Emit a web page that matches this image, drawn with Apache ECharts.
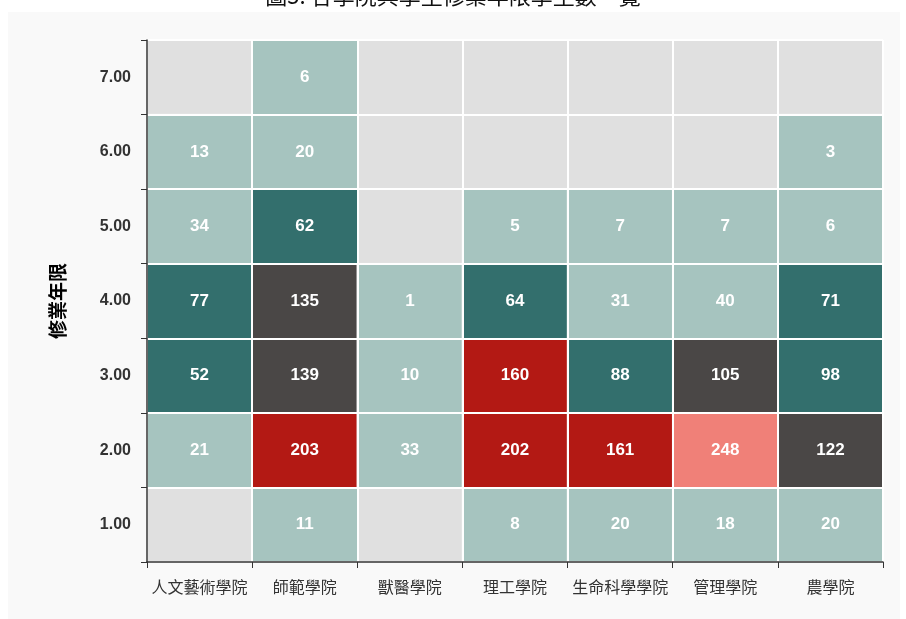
<!DOCTYPE html>
<html><head><meta charset="utf-8">
<script src="https://cdn.jsdelivr.net/npm/echarts@6/dist/echarts.min.js"></script>
<style>html,body{margin:0;padding:0;background:#fff;}#c{width:906px;height:619px;}</style>
</head><body><div id="c"></div>
<script>
const colleges = ['人文藝術學院','師範學院','獸醫學院','理工學院','生命科學學院','管理學院','農學院'];
const years = ['1.00','2.00','3.00','4.00','5.00','6.00','7.00'];
// counts per college, by years 1.00 .. 7.00 (null = no students)
const humanities = [null,21,52,77,34,13,null];
const education  = [11,203,139,135,62,20,6];
const veterinary = [null,33,10,1,null,null,null];
const science    = [8,202,160,64,5,null,null];
const lifeSci    = [20,161,88,31,7,null,null];
const management = [18,248,105,40,7,null,null];
const agriculture= [20,122,98,71,6,3,null];
const byCollege = [humanities,education,veterinary,science,lifeSci,management,agriculture];

const data = [];
byCollege.forEach((arr,ci)=>arr.forEach((v,yi)=>{ if(v!==null) data.push([ci,yi,v]); }));

const cjk = '"Liberation Sans","Noto Sans CJK TC",sans-serif';
const chart = echarts.init(document.getElementById('c'));
chart.setOption({
  animation:false,
  textStyle:{fontFamily:cjk},
  graphic:[
    {type:'rect',z:-10,shape:{x:8,y:12,width:892,height:620},style:{fill:'#f9f9f9'}},
    {type:'text',z:10,x:453,y:7,style:{text:'圖5. 各學院與學生修業年限學生數一覽',font:'22px "Noto Sans CJK TC"',fill:'#111',align:'center',verticalAlign:'bottom'}}
  ],
  grid:{left:147,right:23,top:40,bottom:57,show:true,backgroundColor:'#e0e0e0',borderWidth:0},
  xAxis:{type:'category',data:colleges,z:10,
    axisLine:{lineStyle:{color:'#333',width:1.5}},
    axisTick:{show:true,length:6,lineStyle:{color:'#333'}},
    axisLabel:{color:'#333',fontSize:16,margin:19,interval:0,fontFamily:cjk},
    splitLine:{show:true,lineStyle:{color:'#fff',width:2}}},
  yAxis:{type:'category',data:years,z:10,
    name:'修業年限',nameLocation:'middle',nameGap:78,nameRotate:90,
    nameTextStyle:{fontSize:19,fontWeight:'bold',color:'#000',fontFamily:cjk},
    axisLine:{lineStyle:{color:'#333',width:1.5}},
    axisTick:{show:true,length:6,lineStyle:{color:'#333'}},
    axisLabel:{color:'#333',fontSize:16,fontWeight:'bold',margin:16},
    splitLine:{show:true,lineStyle:{color:'#fff',width:2}}},
  visualMap:{type:'piecewise',show:false,dimension:2,
    pieces:[
      {min:0,max:49.9,color:'#a6c4bf'},
      {min:50,max:99.9,color:'#336f6d'},
      {min:100,max:149.9,color:'#4a4746'},
      {min:150,max:209.9,color:'#b31914'},
      {min:210,max:10000,color:'#f08078'}
    ]},
  series:[{type:'heatmap',data:data,
    itemStyle:{borderColor:'#f0f0f0',borderWidth:1},
    label:{show:true,color:'#fff',fontSize:17,fontWeight:'bold'}}]
});
</script></body></html>
